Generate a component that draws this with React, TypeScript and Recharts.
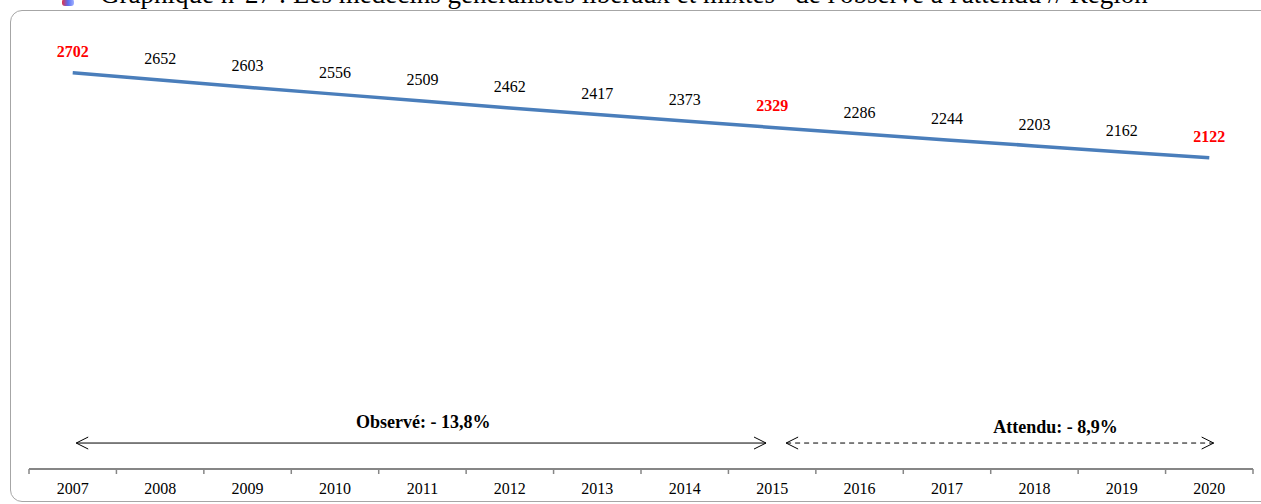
import React from 'react';
import {
  LineChart, Line, XAxis, YAxis, LabelList, ReferenceLine, ReferenceDot,
} from 'recharts';

const years = [2007, 2008, 2009, 2010, 2011, 2012, 2013, 2014, 2015, 2016, 2017, 2018, 2019, 2020];
const medecins = [2702, 2652, 2603, 2556, 2509, 2462, 2417, 2373, 2329, 2286, 2244, 2203, 2162, 2122];
const highlighted = [2007, 2015, 2020];

const observedLabel = 'Observé: - 13,8%';
const expectedLabel = 'Attendu: - 8,9%';
const title = "Graphique n°27 : Les médecins généralistes libéraux et mixtes* de l'observé à l'attendu // Région";

const data = years.map((y, i) => ({ year: y, value: medecins[i] }));

const W = 1261;
const H = 504;
const M = { top: 29, right: 8, bottom: 0, left: 29 };
const BAND = (W - M.left - M.right) / years.length;
const FONT = '"Liberation Serif", "Times New Roman", serif';

function YearTick(props: any) {
  const { x, y, payload, index, visibleTicksCount } = props;
  const last = index === visibleTicksCount - 1;
  return (
    <g>
      <line x1={x - BAND / 2} y1={y} x2={x - BAND / 2} y2={y + 5} stroke="#868686" strokeWidth={1.5} />
      {last && <line x1={x + BAND / 2} y1={y} x2={x + BAND / 2} y2={y + 5} stroke="#868686" strokeWidth={1.5} />}
      <text x={x} y={y + 25} textAnchor="middle" fontFamily={FONT} fontSize={16} fill="#000">
        {payload.value}
      </text>
    </g>
  );
}

function ValueLabel(props: any) {
  const { x, y, value, index } = props;
  const hot = highlighted.includes(years[index]);
  return (
    <text
      x={x}
      y={y - 16}
      textAnchor="middle"
      fontFamily={FONT}
      fontSize={16}
      fontWeight={hot ? 'bold' : 'normal'}
      fill={hot ? '#ff0000' : '#000'}
    >
      {value}
    </text>
  );
}

const arrowShape = (dashed: boolean) => (p: any) => (
  <line
    x1={p.x1}
    y1={p.y1}
    x2={p.x2}
    y2={p.y2}
    stroke="#000"
    strokeWidth={1}
    strokeDasharray={dashed ? '5 4' : undefined}
    markerStart="url(#arrowL)"
    markerEnd="url(#arrowR)"
  />
);

const noteLabel = (text: string) => (p: any) => {
  const vb = p.viewBox || {};
  const cx = (vb.x ?? 0) + (vb.width ?? 0) / 2;
  const cy = (vb.y ?? 0) + (vb.height ?? 0) / 2;
  return (
    <text x={cx} y={cy + 6} textAnchor="middle" fontFamily={FONT} fontSize={18} fontWeight="bold" fill="#000">
      {text}
    </text>
  );
};

export default function App() {
  return (
    <div style={{ position: 'absolute', left: 0, top: 0, width: W, height: H, overflow: 'hidden', background: '#fff' }}>
      <svg width={0} height={0} style={{ position: 'absolute' }}>
        <defs>
          <marker id="arrowL" viewBox="0 0 14 14" refX={1} refY={7} markerWidth={14} markerHeight={14} markerUnits="userSpaceOnUse" orient="0">
            <path d="M13,1 L1,7 L13,13" fill="none" stroke="#000" strokeWidth={1} />
          </marker>
          <marker id="arrowR" viewBox="0 0 14 14" refX={13} refY={7} markerWidth={14} markerHeight={14} markerUnits="userSpaceOnUse" orient="0">
            <path d="M1,1 L13,7 L1,13" fill="none" stroke="#000" strokeWidth={1} />
          </marker>
        </defs>
      </svg>
      <div
        style={{
          position: 'absolute', left: 10, top: 10, width: 1300, height: 492,
          border: '1.5px solid #a6a6a6', borderRadius: 12, boxSizing: 'border-box',
        }}
      />
      <div
        style={{
          position: 'absolute', left: 62, top: -1, width: 12, height: 7,
          background: 'linear-gradient(90deg, #e0304a 0%, #5a6ef0 50%, #9fb0ff 100%)', borderRadius: 3,
        }}
      />
      <div
        style={{
          position: 'absolute', left: 100, top: -19, fontFamily: FONT, fontSize: 27,
          lineHeight: '27px', whiteSpace: 'nowrap', color: '#000',
        }}
      >
        {title}
      </div>
      <div style={{ position: 'absolute', left: 0, top: 0 }}>
        <LineChart width={W} height={H} data={data} margin={M}>
          <XAxis
            dataKey="year"
            type="number"
            domain={[2006.5, 2020.5]}
            ticks={years}
            interval={0}
            height={35}
            tickSize={0}
            tickMargin={0}
            tickLine={false}
            axisLine={{ stroke: '#868686', strokeWidth: 2 }}
            tick={<YearTick />}
          />
          <YAxis hide domain={[0, 3000]} />
          <ReferenceLine
            segment={[{ x: 2007.04, y: 177 }, { x: 2014.93, y: 177 }]}
            shape={arrowShape(false)}
          />
          <ReferenceLine
            segment={[{ x: 2015.16, y: 177 }, { x: 2020.05, y: 177 }]}
            shape={arrowShape(true)}
          />
          <ReferenceDot x={2011.01} y={320} r={0} fill="none" stroke="none" label={noteLabel(observedLabel)} />
          <ReferenceDot x={2018.24} y={286} r={0} fill="none" stroke="none" label={noteLabel(expectedLabel)} />
          <Line
            type="linear"
            dataKey="value"
            stroke="#4a7ebb"
            strokeWidth={3.5}
            dot={false}
            isAnimationActive={false}
          >
            <LabelList dataKey="value" content={<ValueLabel />} />
          </Line>
        </LineChart>
      </div>
    </div>
  );
}
